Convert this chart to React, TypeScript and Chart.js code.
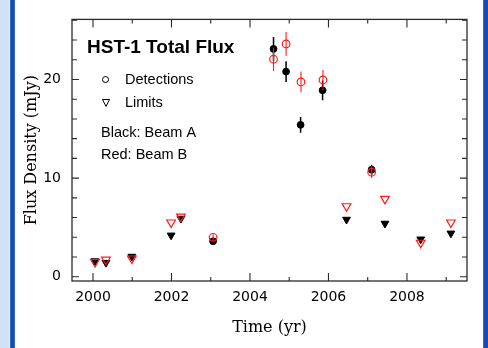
import React, { useEffect, useRef } from 'react';
import { Chart, registerables } from 'chart.js';

Chart.register(...registerables);

// ---- Data ----
const xTickValues = [2000, 2002, 2004, 2006, 2008];
const yTickValues = [0, 10, 20];

// Beam A (black) detections
const detYearsA = [2003.06, 2004.6, 2004.92, 2005.29, 2005.85, 2007.1];
const detFluxA = [3.6, 23.1, 20.8, 15.4, 18.9, 10.85];
const detErrA = [0.3, 1.2, 1.05, 0.8, 1.0, 0.5];

// Beam B (red) detections
const detYearsB = [2003.06, 2004.6, 2004.92, 2005.3, 2005.86, 2007.1];
const detFluxB = [4.0, 22.05, 23.6, 19.75, 19.95, 10.6];
const detErrB = [0.3, 1.2, 1.2, 1.05, 1.0, 0.6];

// Beam A (black) upper limits
const limYearsA = [2000.05, 2000.33, 2000.99, 2001.99, 2002.24, 2006.46, 2007.44, 2008.35, 2009.12];
const limFluxA = [1.6, 1.43, 2.05, 4.2, 5.9, 5.8, 5.4, 3.8, 4.4];

// Beam B (red) upper limits
const limYearsB = [2000.05, 2000.33, 2000.99, 2001.99, 2002.24, 2006.46, 2007.44, 2008.35, 2009.12];
const limFluxB = [1.5, 1.73, 1.85, 5.5, 6.1, 7.15, 7.9, 3.45, 5.5];

const toPts = (xs: number[], ys: number[]) => xs.map((x, i) => ({ x, y: ys[i] }));

const backgroundPlugin = {
  id: 'pageBg',
  beforeDraw(chart: any) {
    const ctx = chart.ctx;
    const W = chart.width;
    const H = chart.height;
    ctx.save();
    ctx.fillStyle = '#ffffff';
    ctx.fillRect(0, 0, W, H);
    ctx.fillStyle = '#d2e2f6';
    ctx.fillRect(0, 0, 9, H);
    ctx.fillStyle = '#f3f1e6';
    ctx.fillRect(9, 0, 1, H);
    ctx.fillStyle = '#3567c8';
    ctx.fillRect(10, 0, 5, H);
    ctx.fillStyle = '#174ab4';
    ctx.fillRect(11, 0, 3, H);
    ctx.fillStyle = '#3567c8';
    ctx.fillRect(483, 0, 5, H);
    ctx.fillStyle = '#174ab4';
    ctx.fillRect(484, 0, 4, H);
    ctx.restore();
  },
};

const framePlugin = {
  id: 'frameTicks',
  beforeDatasetsDraw(chart: any) {
    const { ctx, chartArea: a, scales } = chart;
    const xs = scales.x;
    const ys = scales.y;
    ctx.save();
    ctx.strokeStyle = '#2a2a2a';
    ctx.lineWidth = 1.3;
    ctx.strokeRect(a.left, a.top, a.right - a.left, a.bottom - a.top);
    ctx.lineWidth = 1.1;
    ctx.beginPath();
    for (let yr = Math.ceil(xs.min); yr <= xs.max; yr++) {
      const px = xs.getPixelForValue(yr);
      const len = yr % 2 === 0 ? 8 : 4;
      ctx.moveTo(px, a.bottom);
      ctx.lineTo(px, a.bottom - len);
      ctx.moveTo(px, a.top);
      ctx.lineTo(px, a.top + len);
    }
    for (let v = 0; v <= ys.max; v += 2) {
      const py = ys.getPixelForValue(v);
      const len = v % 10 === 0 ? 7 : 5;
      ctx.moveTo(a.left, py);
      ctx.lineTo(a.left + len, py);
      ctx.moveTo(a.right, py);
      ctx.lineTo(a.right - len, py);
    }
    ctx.stroke();
    ctx.restore();
  },
};

const errorBarPlugin = {
  id: 'errorBars',
  beforeDatasetDraw(chart: any, args: any) {
    const ds = chart.data.datasets[args.index];
    if (!ds.errors) return;
    const { ctx, scales } = chart;
    ctx.save();
    ctx.strokeStyle = ds.errColor;
    ctx.lineWidth = ds.errWidth;
    ctx.beginPath();
    ds.data.forEach((p: any, i: number) => {
      const e = ds.errors[i];
      const px = scales.x.getPixelForValue(p.x);
      ctx.moveTo(px, scales.y.getPixelForValue(p.y - e));
      ctx.lineTo(px, scales.y.getPixelForValue(p.y + e));
    });
    ctx.stroke();
    ctx.restore();
  },
};

const annotationPlugin = {
  id: 'annotations',
  afterDraw(chart: any) {
    const ctx = chart.ctx;
    ctx.save();
    ctx.fillStyle = '#000';
    ctx.textAlign = 'left';
    ctx.textBaseline = 'alphabetic';
    ctx.font = 'bold 19px "Liberation Sans", Arial, sans-serif';
    ctx.fillText('HST-1 Total Flux', 87, 53);
    ctx.font = '14.5px "Liberation Sans", Arial, sans-serif';
    ctx.fillText('Detections', 125, 84);
    ctx.fillText('Limits', 125, 107);
    ctx.fillText('Black: Beam A', 101, 137);
    ctx.fillText('Red: Beam B', 101, 158.5);
    ctx.strokeStyle = '#000';
    ctx.lineWidth = 1;
    ctx.beginPath();
    ctx.arc(105.5, 79.5, 3, 0, Math.PI * 2);
    ctx.stroke();
    ctx.beginPath();
    ctx.moveTo(102.5, 99.5);
    ctx.lineTo(109.5, 99.5);
    ctx.lineTo(106, 106.5);
    ctx.closePath();
    ctx.stroke();
    ctx.restore();
  },
};

export default function App() {
  const canvasRef = useRef<HTMLCanvasElement | null>(null);

  useEffect(() => {
    const canvas = canvasRef.current;
    if (!canvas) return;
    const chart = new Chart(canvas, {
      type: 'scatter',
      data: {
        datasets: [
          {
            label: 'Detections B',
            data: toPts(detYearsB, detFluxB),
            errors: detErrB,
            errColor: '#ff1a1a',
            errWidth: 1.1,
            pointStyle: 'circle',
            pointRadius: 3.8,
            pointBackgroundColor: 'rgba(0,0,0,0)',
            pointBorderColor: '#ff1a1a',
            pointBorderWidth: 1.2,
            order: 1,
          } as any,
          {
            label: 'Limits B',
            data: toPts(limYearsB, limFluxB),
            pointStyle: 'triangle',
            rotation: 180,
            pointRadius: 5,
            pointBackgroundColor: 'rgba(0,0,0,0)',
            pointBorderColor: '#ff1a1a',
            pointBorderWidth: 1.2,
            order: 1,
          } as any,
          {
            label: 'Detections A',
            data: toPts(detYearsA, detFluxA),
            errors: detErrA,
            errColor: '#000',
            errWidth: 1.5,
            pointStyle: 'circle',
            pointRadius: 3.4,
            pointBackgroundColor: '#000',
            pointBorderColor: '#000',
            pointBorderWidth: 1,
            order: 2,
          } as any,
          {
            label: 'Limits A',
            data: toPts(limYearsA, limFluxA),
            pointStyle: 'triangle',
            rotation: 180,
            pointRadius: 4.5,
            pointBackgroundColor: '#000',
            pointBorderColor: '#000',
            pointBorderWidth: 1,
            order: 2,
          } as any,
        ],
      },
      options: {
        animation: false,
        responsive: false,
        devicePixelRatio: 1,
        events: [],
        layout: { padding: { left: 0, right: 21, top: 15, bottom: 0 } },
        plugins: {
          legend: { display: false },
          tooltip: { enabled: false },
        },
        scales: {
          x: {
            type: 'linear',
            min: 1999.465,
            max: 2009.53,
            grid: { display: false, drawTicks: false },
            border: { display: false },
            afterBuildTicks: (s: any) => {
              s.ticks = xTickValues.map((v) => ({ value: v }));
            },
            afterFit: (s: any) => {
              s.height = 67;
            },
            ticks: {
              padding: 8,
              color: '#000',
              font: { family: '"DejaVu Sans", sans-serif', size: 14 },
              callback: (v: any) => String(v),
              maxRotation: 0,
              autoSkip: false,
            },
            title: {
              display: true,
              text: 'Time (yr)',
              color: '#000',
              font: { family: '"DejaVu Serif", serif', size: 16 },
              padding: { top: 0, bottom: 10.5 },
            },
          },
          y: {
            type: 'linear',
            min: -0.43,
            max: 26.09,
            grid: { display: false, drawTicks: false },
            border: { display: false },
            afterBuildTicks: (s: any) => {
              s.ticks = yTickValues.map((v) => ({ value: v }));
            },
            afterFit: (s: any) => {
              s.width = 72;
            },
            ticks: {
              padding: 11,
              color: '#000',
              font: { family: '"DejaVu Sans", sans-serif', size: 14 },
              callback: (v: any) => String(v),
              autoSkip: false,
            },
            title: {
              display: true,
              text: 'Flux Density (mJy)',
              color: '#000',
              font: { family: '"DejaVu Serif", serif', size: 16 },
              padding: { top: 22, bottom: 0 },
            },
          },
        },
      } as any,
      plugins: [backgroundPlugin, framePlugin, errorBarPlugin, annotationPlugin],
    });
    return () => chart.destroy();
  }, []);

  return (
    <div style={{ position: 'fixed', left: 0, top: 0, width: 488, height: 348, background: '#fff' }}>
      <canvas ref={canvasRef} width={488} height={348} style={{ display: 'block', width: 488, height: 348 }} />
    </div>
  );
}
